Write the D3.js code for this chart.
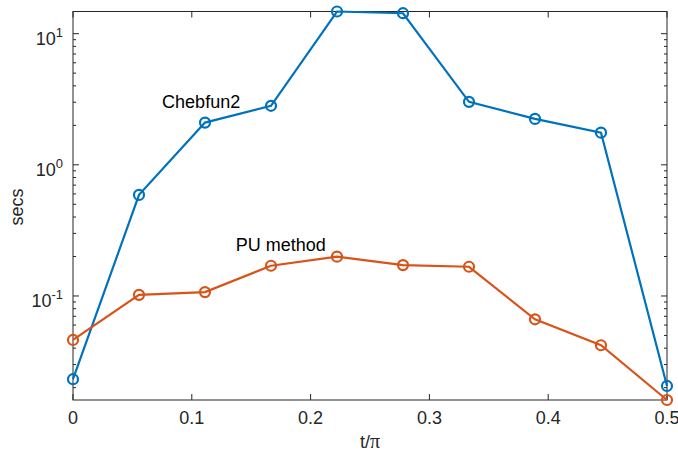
<!DOCTYPE html>
<html><head><meta charset="utf-8">
<script src="https://cdn.jsdelivr.net/npm/d3@7"></script>
<style>body{margin:0;background:#fff}svg{display:block}text{font-family:"Liberation Sans",Arial,sans-serif;fill:#262626}</style>
</head><body><svg id="c" width="678" height="457"></svg>
<script>
const tOverPi = [0, 1/18, 2/18, 3/18, 4/18, 5/18, 6/18, 7/18, 8/18, 9/18];
const chebfun2 = [0.0232, 0.590, 2.10, 2.82, 14.76, 14.32, 3.02, 2.24, 1.76, 0.0206];
const puMethod = [0.0462, 0.102, 0.107, 0.170, 0.1995, 0.172, 0.167, 0.0664, 0.0421, 0.0161];
const xTicks = [0, 0.1, 0.2, 0.3, 0.4, 0.5];
const xTickLabels = ["0", "0.1", "0.2", "0.3", "0.4", "0.5"];
const yTicks = [0.1, 1, 10];
const yTickExps = ["-1", "0", "1"];
const seriesNames = ["Chebfun2", "PU method"];
const labelPos = [[0.075, 3.05], [0.137, 0.249]];

const svg = d3.select("#c");
const L = 73, R = 667, T = 11.5, B = 400;
const all = chebfun2.concat(puMethod);
const x = d3.scaleLinear().domain([0, 0.5]).range([L, R]);
const y = d3.scaleLog().domain([d3.min(all), d3.max(all)]).range([B, T]);
const ax = "#262626";
const colors = ["#0072BD", "#D95319"];
const fs = "18px";

const minor = [];
for (let e = -2; e <= 1; e++) for (let m = 2; m <= 9; m++) {
  const v = m * Math.pow(10, e);
  if (v >= y.domain()[0] && v <= y.domain()[1]) minor.push(v);
}
const g = svg.append("g");
minor.forEach(v => {
  g.append("line").attr("x1", L).attr("x2", L + 3).attr("y1", y(v)).attr("y2", y(v)).attr("stroke", ax);
  g.append("line").attr("x1", R).attr("x2", R - 3).attr("y1", y(v)).attr("y2", y(v)).attr("stroke", ax);
});
yTicks.forEach((v, i) => {
  g.append("line").attr("x1", L).attr("x2", L + 6).attr("y1", y(v)).attr("y2", y(v)).attr("stroke", ax);
  g.append("line").attr("x1", R).attr("x2", R - 6).attr("y1", y(v)).attr("y2", y(v)).attr("stroke", ax);
  const t = g.append("text").attr("x", L - 10).attr("y", y(v) + 11.5).attr("text-anchor", "end").style("font-size", fs);
  t.append("tspan").text("10");
  t.append("tspan").attr("dy", -8.5).style("font-size", "13px").text(yTickExps[i]);
});
xTicks.forEach((v, i) => {
  g.append("line").attr("x1", x(v)).attr("x2", x(v)).attr("y1", B).attr("y2", B - 6).attr("stroke", ax);
  g.append("line").attr("x1", x(v)).attr("x2", x(v)).attr("y1", T).attr("y2", T + 6).attr("stroke", ax);
  g.append("text").attr("x", x(v)).attr("y", 424).attr("text-anchor", "middle").style("font-size", fs).text(xTickLabels[i]);
});
g.append("rect").attr("x", L).attr("y", T).attr("width", R - L).attr("height", B - T).attr("fill", "none").attr("stroke", ax);

const xl = g.append("text").attr("x", (L + R) / 2).attr("y", 448).attr("text-anchor", "middle").style("font-size", fs);
xl.append("tspan").text("t/");
xl.append("tspan").style("font-family", "'Liberation Serif', serif").style("font-size", "20px").text("π");
g.append("text").attr("transform", "translate(23,207) rotate(-90)").attr("text-anchor", "middle").style("font-size", fs).text("secs");

[chebfun2, puMethod].forEach((s, k) => {
  const pts = s.map((v, i) => [x(tOverPi[i]), y(v)]);
  svg.append("path").attr("d", d3.line()(pts)).attr("fill", "none").attr("stroke", colors[k]).attr("stroke-width", 2.2);
  svg.selectAll(null).data(pts).enter().append("circle").attr("cx", d => d[0]).attr("cy", d => d[1]).attr("r", 5)
    .attr("fill", "none").attr("stroke", colors[k]).attr("stroke-width", 2.2);
  svg.append("text").attr("x", x(labelPos[k][0])).attr("y", y(labelPos[k][1]) + 6.5).style("font-size", fs).style("fill", "#000").text(seriesNames[k]);
});
</script></body></html>
